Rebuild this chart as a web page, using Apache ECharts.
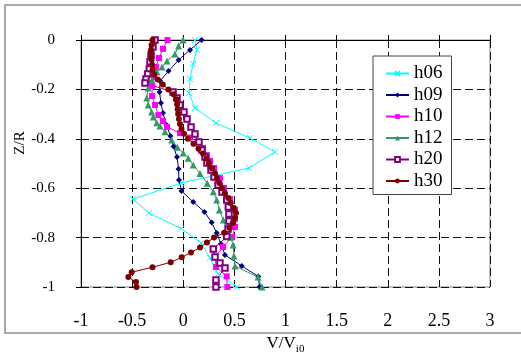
<!DOCTYPE html>
<html><head><meta charset="utf-8">
<script src="https://cdn.jsdelivr.net/npm/echarts@6/dist/echarts.min.js"></script>
<style>html,body{margin:0;padding:0;background:#fff}#c{width:521px;height:361px}</style>
</head><body><div id="c"></div>
<script>
const seriesNames = ['h06','h09','h10','h12','h20','h30'];
const xTicks = [-1, -0.5, 0, 0.5, 1, 1.5, 2, 2.5, 3];
const yTicks = [0, -0.2, -0.4, -0.6, -0.8, -1];

const zH06 = [0,-0.04,-0.097,-0.158,-0.215,-0.275,-0.336,-0.397,-0.453,-0.518,-0.579,-0.644,-0.701,-0.763,-0.822,-0.883,-0.947,-1.0];
const vH06 = [0.115,0.134,0.095,0.066,0.056,0.115,0.32,0.653,0.897,0.643,-0.02,-0.49,-0.335,-0.02,0.174,0.262,0.34,0.526];

const zH09 = [0,-0.04,-0.081,-0.126,-0.166,-0.211,-0.255,-0.296,-0.344,-0.389,-0.431,-0.474,-0.522,-0.567,-0.611,-0.656,-0.696,-0.739,-0.781,-0.826,-0.870,-0.915,-0.957,-1];
const vH09 = [0.18,0.066,-0.046,-0.144,-0.227,-0.232,-0.218,-0.198,-0.164,-0.125,-0.095,-0.061,-0.046,-0.042,-0.017,0.098,0.208,0.278,0.327,0.369,0.408,0.572,0.734,0.746];

const zH10 = [0,-0.036,-0.073,-0.109,-0.150,-0.186,-0.227,-0.263,-0.304,-0.328,-0.352,-0.377,-0.395,-0.413,-0.437,-0.466,-0.490,-0.518,-0.559,-0.599,-0.644,-0.688,-0.725,-0.757,-0.798,-0.838,-0.879,-0.919,-0.957,-1];
const vH10 = [-0.154,-0.198,-0.237,-0.267,-0.286,-0.303,-0.306,-0.276,-0.244,-0.198,-0.159,-0.032,0.066,0.144,0.193,0.232,0.262,0.301,0.359,0.399,0.457,0.506,0.506,0.506,0.477,0.389,0.311,0.320,0.425,0.431];

const zH12 = [0,-0.024,-0.057,-0.085,-0.109,-0.130,-0.162,-0.194,-0.235,-0.263,-0.291,-0.312,-0.335,-0.348,-0.371,-0.405,-0.434,-0.457,-0.479,-0.506,-0.540,-0.580,-0.614,-0.648,-0.688,-0.729,-0.769,-0.799,-0.830,-0.874,-0.915,-0.960,-1];
const vH12 = [-0.002,-0.046,-0.081,-0.159,-0.208,-0.257,-0.306,-0.342,-0.357,-0.342,-0.309,-0.293,-0.260,-0.227,-0.178,-0.113,-0.058,0.0,0.049,0.098,0.164,0.235,0.294,0.327,0.353,0.392,0.425,0.464,0.487,0.496,0.506,0.731,0.770];

const zH20 = [0,-0.028,-0.061,-0.089,-0.117,-0.138,-0.158,-0.174,-0.211,-0.235,-0.263,-0.291,-0.320,-0.352,-0.381,-0.413,-0.445,-0.474,-0.498,-0.526,-0.555,-0.587,-0.615,-0.648,-0.676,-0.704,-0.733,-0.765,-0.796,-0.846,-0.879,-0.903,-0.923,-0.972,-1];
const vH20 = [-0.276,-0.296,-0.315,-0.325,-0.332,-0.348,-0.364,-0.374,-0.100,-0.061,-0.032,0.007,0.037,0.076,0.115,0.154,0.183,0.213,0.232,0.271,0.301,0.340,0.379,0.425,0.441,0.447,0.447,0.438,0.425,0.294,0.311,0.359,0.408,0.320,0.320];

const zH30 = [0,-0.02,-0.04,-0.06,-0.08,-0.10,-0.12,-0.14,-0.16,-0.18,-0.20,-0.22,-0.24,-0.26,-0.28,-0.30,-0.32,-0.34,-0.36,-0.38,-0.40,-0.42,-0.44,-0.46,-0.48,-0.50,-0.52,-0.54,-0.56,-0.58,-0.60,-0.62,-0.64,-0.66,-0.68,-0.70,-0.72,-0.74,-0.76,-0.78,-0.80,-0.82,-0.84,-0.86,-0.88,-0.90,-0.92,-0.94,-0.96,-0.98,-1.0];
const vH30 = [-0.30,-0.31,-0.315,-0.315,-0.31,-0.305,-0.30,-0.285,-0.25,-0.20,-0.145,-0.095,-0.068,-0.06,-0.055,-0.05,-0.042,-0.032,-0.017,0.007,0.046,0.10,0.149,0.193,0.227,0.252,0.281,0.311,0.33,0.355,0.379,0.408,0.441,0.464,0.496,0.516,0.506,0.487,0.452,0.40,0.301,0.232,0.164,0.076,-0.015,-0.123,-0.301,-0.504,-0.537,-0.462,-0.457];

const FONT = 'Liberation Serif';
const pairs = (v, z) => v.map((x, i) => [x, z[i]]);
const seriesData = [pairs(vH06,zH06), pairs(vH09,zH09), pairs(vH10,zH10), pairs(vH12,zH12), pairs(vH20,zH20), pairs(vH30,zH30)];
const colors = ['#00FFFF','#000080','#FF00FF','#339966','#800080','#800000'];
const symbols = ['path://M0,0L10,10M10,0L0,10','diamond','rect','triangle','emptyRect','circle'];
const sizes = [6,6,6,7,5.5,6];

const dashed = {color:'#111', type:[8,4], width:1};

const chart = echarts.init(document.getElementById('c'), null, {renderer:'canvas'});
chart.setOption({
  animation:false,
  backgroundColor:'#fff',
  grid:{left:81, right:31, top:40, bottom:74, show:true, borderColor:'#888', borderWidth:1, backgroundColor:'transparent'},
  graphic:[
    {type:'rect', silent:true, z:-10, shape:{x:5, y:5, width:540, height:328}, style:{fill:null, stroke:'#8c8c8c', lineWidth:1.5}},
    {type:'text', silent:true, x:20, y:143, rotation:Math.PI/2, style:{text:'Z/R', fontSize:15, fontFamily:FONT, fill:'#000', align:'center', verticalAlign:'middle'}}
  ],
  legend:{
    orient:'vertical', left:373, top:56, padding:[8,9,4,12], itemGap:2.5, itemWidth:23, itemHeight:6,
    backgroundColor:'#fff', borderColor:'#444', borderWidth:1,
    textStyle:{fontFamily:FONT, fontSize:19, color:'#000', lineHeight:19},
    data:seriesNames
  },
  xAxis:[
    {type:'value', position:'bottom', min:xTicks[0], max:xTicks[xTicks.length-1], interval:0.5,
     axisLine:{show:false, onZero:false}, axisTick:{show:false},
     axisLabel:{fontFamily:FONT, fontSize:18, color:'#000', margin:25},
     splitLine:{show:true, lineStyle:dashed},
     name:'{a|V/V}{b|i0}', nameLocation:'middle', nameGap:42,
     nameTextStyle:{rich:{a:{fontFamily:FONT, fontSize:17, color:'#000', verticalAlign:'bottom', padding:[0,0,3,0]}, b:{fontFamily:FONT, fontSize:11, color:'#000', verticalAlign:'bottom'}}}
    },
    {type:'value', position:'top', min:xTicks[0], max:xTicks[xTicks.length-1], interval:0.5,
     axisLine:{show:true, onZero:false, lineStyle:{color:'#000', width:1}},
     axisTick:{show:true, length:5, lineStyle:{color:'#000'}},
     axisLabel:{show:false}, splitLine:{show:false}}
  ],
  yAxis:{type:'value', min:yTicks[yTicks.length-1], max:yTicks[0], interval:0.2,
    axisLine:{show:true, onZero:false, lineStyle:{color:'#000', width:1}},
    axisTick:{show:true, length:5, lineStyle:{color:'#000'}},
    axisLabel:{fontFamily:FONT, fontSize:15, color:'#000', margin:26},
    splitLine:{show:true, lineStyle:dashed}
  },
  series: seriesNames.map((n, i) => ({
    name:n, type:'line', xAxisIndex:0, data:seriesData[i],
    symbol:symbols[i], symbolSize:sizes[i], showAllSymbol:true,
    lineStyle:{color:colors[i], width:1},
    itemStyle:{color:colors[i], borderColor:colors[i], borderWidth: (i===0||i===4)?1:0},
    emphasis:{disabled:true}
  }))
});
</script></body></html>
